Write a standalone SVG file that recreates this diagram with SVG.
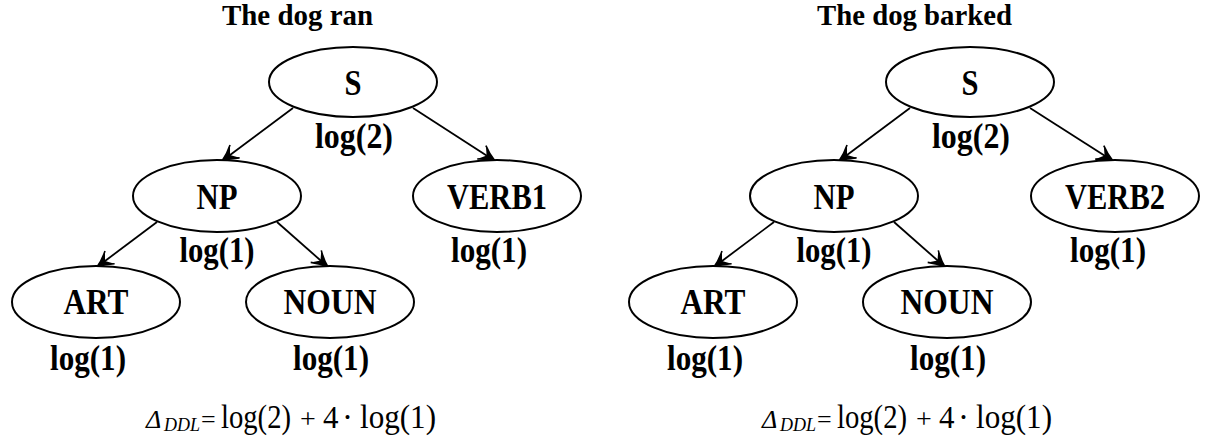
<svg xmlns="http://www.w3.org/2000/svg" width="1208" height="445" viewBox="0 0 1208 445">
<style>
.bg{fill:#fff}
.node{fill:#fff;stroke:#000;stroke-width:2}
.t{font-family:"Liberation Serif","Times New Roman",serif;font-weight:bold;font-size:35px;fill:#000}
.title{font-family:"Liberation Serif","Times New Roman",serif;font-weight:bold;font-size:29px;fill:#000}
.f{font-family:"Liberation Serif","Times New Roman",serif;font-size:33px;fill:#000}
.it{font-style:italic}
.edge{stroke:#000;stroke-width:1.8;fill:none;marker-end:url(#arr)}
</style>
<defs>
<marker id="arr" markerUnits="userSpaceOnUse" markerWidth="22" markerHeight="20" viewBox="-19 -10 21 20" refX="0" refY="0" orient="auto">
<path d="M0,0 Q-8,-2.5 -16,-8 L-10,0 L-16,8 Q-8,2.5 0,0 Z" fill="#000"/>
<path d="M-16,-8 Q-8,-2.5 0,0 Q-8,2.5 -16,8" fill="none" stroke="#000" stroke-width="1.6"/>
</marker>
</defs>
<rect class="bg" x="0" y="0" width="1208" height="445"/>

<!-- Left tree -->
<text class="title" x="222" y="25" textLength="151" lengthAdjust="spacingAndGlyphs">The dog ran</text>

<g id="connectors-left">
<line class="edge" x1="293" y1="108" x2="222" y2="161"/>
<line class="edge" x1="413" y1="108" x2="495" y2="161"/>
<line class="edge" x1="157" y1="222" x2="97" y2="267"/>
<line class="edge" x1="277" y1="222" x2="328" y2="267"/>
</g>

<g id="L-S">
<ellipse class="node" cx="353" cy="82" rx="84" ry="35"/>
<text class="t" x="344.5" y="95" textLength="17" lengthAdjust="spacingAndGlyphs">S</text>
<text class="t" x="315" y="148" textLength="78" lengthAdjust="spacingAndGlyphs">log(2)</text>
</g>
<g id="L-NP">
<ellipse class="node" cx="217" cy="196" rx="84" ry="36"/>
<text class="t" x="196.5" y="209" textLength="41" lengthAdjust="spacingAndGlyphs">NP</text>
<text class="t" x="179.5" y="262" textLength="75" lengthAdjust="spacingAndGlyphs">log(1)</text>
</g>
<g id="L-VERB1">
<ellipse class="node" cx="497" cy="196" rx="84" ry="36"/>
<text class="t" x="447" y="209" textLength="100" lengthAdjust="spacingAndGlyphs">VERB1</text>
<text class="t" x="451" y="262" textLength="76" lengthAdjust="spacingAndGlyphs">log(1)</text>
</g>
<g id="L-ART">
<ellipse class="node" cx="96" cy="302" rx="84" ry="36"/>
<text class="t" x="63.5" y="314" textLength="65" lengthAdjust="spacingAndGlyphs">ART</text>
<text class="t" x="50" y="370" textLength="76" lengthAdjust="spacingAndGlyphs">log(1)</text>
</g>
<g id="L-NOUN">
<ellipse class="node" cx="330" cy="302" rx="84" ry="36"/>
<text class="t" x="283.5" y="314" textLength="93" lengthAdjust="spacingAndGlyphs">NOUN</text>
<text class="t" x="293" y="370" textLength="76" lengthAdjust="spacingAndGlyphs">log(1)</text>
</g>

<g id="L-formula">
<text class="f" y="428"><tspan class="it" x="146" font-size="26">Δ</tspan><tspan class="it" x="164" y="431" font-size="18" textLength="36" lengthAdjust="spacingAndGlyphs">DDL</tspan><tspan x="201" y="428" font-size="26">=</tspan><tspan x="221" textLength="70" lengthAdjust="spacingAndGlyphs">log(2)</tspan><tspan x="300" font-size="28">+</tspan><tspan x="323" font-size="31">4</tspan><tspan x="342">·</tspan><tspan x="360" textLength="76" lengthAdjust="spacingAndGlyphs">log(1)</tspan></text>
</g>

<!-- Right tree -->
<text class="title" x="817" y="25" textLength="195" lengthAdjust="spacingAndGlyphs">The dog barked</text>

<g id="connectors-right">
<line class="edge" x1="910" y1="108" x2="839" y2="161"/>
<line class="edge" x1="1030" y1="108" x2="1113" y2="161"/>
<line class="edge" x1="774" y1="222" x2="714" y2="267"/>
<line class="edge" x1="894" y1="222" x2="945" y2="267"/>
</g>

<g id="R-S">
<ellipse class="node" cx="970" cy="82" rx="84" ry="35"/>
<text class="t" x="961.5" y="95" textLength="17" lengthAdjust="spacingAndGlyphs">S</text>
<text class="t" x="932" y="148" textLength="78" lengthAdjust="spacingAndGlyphs">log(2)</text>
</g>
<g id="R-NP">
<ellipse class="node" cx="834" cy="196" rx="84" ry="36"/>
<text class="t" x="813.5" y="209" textLength="41" lengthAdjust="spacingAndGlyphs">NP</text>
<text class="t" x="796.5" y="262" textLength="75" lengthAdjust="spacingAndGlyphs">log(1)</text>
</g>
<g id="R-VERB2">
<ellipse class="node" cx="1115" cy="196" rx="84" ry="36"/>
<text class="t" x="1065" y="209" textLength="100" lengthAdjust="spacingAndGlyphs">VERB2</text>
<text class="t" x="1070" y="262" textLength="76" lengthAdjust="spacingAndGlyphs">log(1)</text>
</g>
<g id="R-ART">
<ellipse class="node" cx="713" cy="302" rx="84" ry="36"/>
<text class="t" x="680.5" y="314" textLength="65" lengthAdjust="spacingAndGlyphs">ART</text>
<text class="t" x="667" y="370" textLength="76" lengthAdjust="spacingAndGlyphs">log(1)</text>
</g>
<g id="R-NOUN">
<ellipse class="node" cx="947" cy="302" rx="84" ry="36"/>
<text class="t" x="900.5" y="314" textLength="93" lengthAdjust="spacingAndGlyphs">NOUN</text>
<text class="t" x="910" y="370" textLength="76" lengthAdjust="spacingAndGlyphs">log(1)</text>
</g>

<g id="R-formula">
<text class="f" y="428"><tspan class="it" x="762" font-size="26">Δ</tspan><tspan class="it" x="780" y="431" font-size="18" textLength="36" lengthAdjust="spacingAndGlyphs">DDL</tspan><tspan x="817" y="428" font-size="26">=</tspan><tspan x="837" textLength="70" lengthAdjust="spacingAndGlyphs">log(2)</tspan><tspan x="916" font-size="28">+</tspan><tspan x="939" font-size="31">4</tspan><tspan x="958">·</tspan><tspan x="976" textLength="76" lengthAdjust="spacingAndGlyphs">log(1)</tspan></text>
</g>
</svg>
